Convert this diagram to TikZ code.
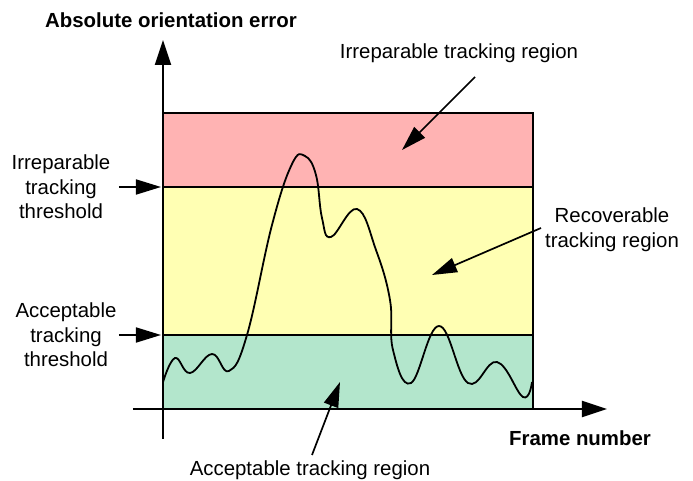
\documentclass[tikz,border=0pt]{standalone}
\usepackage{fontspec}
\setmainfont{Liberation Sans}
\usetikzlibrary{positioning, calc, arrows.meta}
\definecolor{irrred}{RGB}{255,179,179}
\definecolor{recyellow}{RGB}{255,255,179}
\definecolor{accgreen}{RGB}{179,230,204}
\tikzstyle{Arrow} = [
%pointer arrows
line width = 0.85pt, -{Triangle[length = 12.5pt, width = 7.5pt]}
]
\begin{document}
\begin{tikzpicture}[
				x = 0.5pt, y = -0.5pt,
				label/.style = {font = \fontsize{10.2pt}{12.3pt}\selectfont, align = center, inner sep = 0pt},
				title/.style = {label, font = \fontsize{10.2pt}{12.3pt}\selectfont\bfseries},
				band/.style = {draw, line width = 0.6pt},
				axis/.style = {line width = 1pt, -{Triangle[length = 12.5pt, width = 8pt]}},
				signal/.style = {line width = 0.9pt, smooth, tension = 0.7},
			]
			\useasboundingbox (0,0) rectangle (693,481);

			% regions
			\draw[band, fill = irrred](163,113) rectangle (533,187);
			\draw[band, fill = recyellow](163,187) rectangle (533,335);
			\draw[band, fill = accgreen](163,335) rectangle (533,409);

			% error curve
			\draw[signal] plot coordinates {(163,382) (175,358) (190,373) (212,354) (229,371) (247,335) (272,225) (292,164) (305,156) (316,175) (322,218) (331,237) (357,209) (376,250) (390,300) (393,350) (411,383) (439,326) (468,383) (497,362) (523,397) (532,382)};

			% axes
			\coordinate(XL) at (133,409);
			\coordinate(XR) at (607,409);
			\coordinate(YB) at (163,439);
			\coordinate(YT) at (163,40);
			\draw[axis](XL)--(XR);
			\draw[axis](YB)--(YT);

			\node[title](YLabel) at (171,20){Absolute orientation error};
			\node[title](XLabel) at (580,438){Frame number};

			% region labels
			\node[label](IrrRegion) at (459,53){Irreparable tracking region};
			\node[label](RecRegion) at (612,230){Recoverable\\tracking region};
			\node[label](AccRegion) at (310,470){Acceptable tracking region};
			\node[label](IrrThresh) at (61,187){Irreparable\\tracking\\threshold};
			\node[label](AccThresh) at (66,335){Acceptable\\tracking\\threshold};

			\coordinate(IrrFrom) at (475,77);
			\coordinate(IrrTip) at (402,150);
			\coordinate(RecFrom) at (541,228);
			\coordinate(RecTip) at (432,275);
			\coordinate(AccFrom) at (312,455);
			\coordinate(AccTip) at (340,382);
			\coordinate(ITFrom) at (119,187);
			\coordinate(ITTip) at (161,187);
			\coordinate(ATFrom) at (119,335);
			\coordinate(ATTip) at (161,335);

			\draw[Arrow](IrrFrom)--(IrrTip);
			\draw[Arrow](RecFrom)--(RecTip);
			\draw[Arrow](AccFrom)--(AccTip);
			\draw[Arrow](ITFrom)--(ITTip);
			\draw[Arrow](ATFrom)--(ATTip);

		\end{tikzpicture}
\end{document}
